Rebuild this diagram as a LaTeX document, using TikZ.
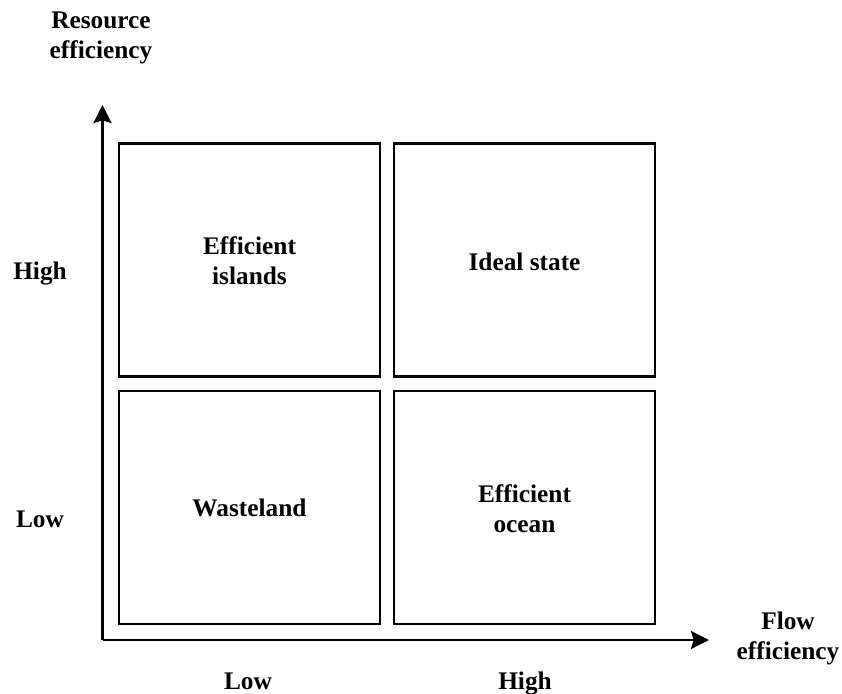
\documentclass[tikz,border=0pt]{standalone}
\usepackage{fontspec}
\setmainfont{Liberation Serif}
\usetikzlibrary{arrows.meta}
\begin{document}
\begin{tikzpicture}[x=0.75pt,y=-0.75pt,
  txt/.style={font=\bfseries\fontsize{19}{22.5}\selectfont,align=center,inner sep=0pt},
  quad/.style={draw,line width=2pt,minimum width=261*0.75pt,minimum height=233*0.75pt,inner sep=0pt,txt},
  lbl/.style={txt},
  axis/.style={line width=2pt,-{Stealth[length=13.5pt,width=13.5pt,inset=2pt]}}]
\useasboundingbox (0,0) rectangle (842,693);
% quadrants
\node[quad] (tl) at (249.5,260) {};
\node[quad] (tr) at (524.5,260) {};
\node[quad] (bl) at (249.5,507.5) {};
\node[quad] (br) at (524.5,507.5) {};
% quadrant names
\node[lbl] (tlname) at (249.5,261) {Efficient\\islands};
\node[lbl,anchor=base] (trname) at (524.5,270) {Ideal state};
\node[lbl,anchor=base] (blname) at (249.5,516) {Wasteland};
\node[lbl] (brname) at (524.5,509) {Efficient\\ocean};
% axes
\coordinate (origin) at (102.5,640);
\coordinate (ytip) at (102.5,105);
\coordinate (xtip) at (709,640);
\draw[axis] (origin) -- (ytip);
\draw[axis] (origin) -- (xtip);
% axis titles
\node[lbl] (ytitle) at (101,38) {Resource\\efficiency};
\node[lbl] (xtitle) at (788,638) {Flow\\efficiency};
% level labels
\node[lbl,anchor=base] (yhigh) at (40,279.5) {High};
\node[lbl,anchor=base] (ylow) at (40,527) {Low};
\node[lbl,anchor=base] (xlow) at (248,689) {Low};
\node[lbl,anchor=base] (xhigh) at (525,689) {High};
\end{tikzpicture}
\end{document}
